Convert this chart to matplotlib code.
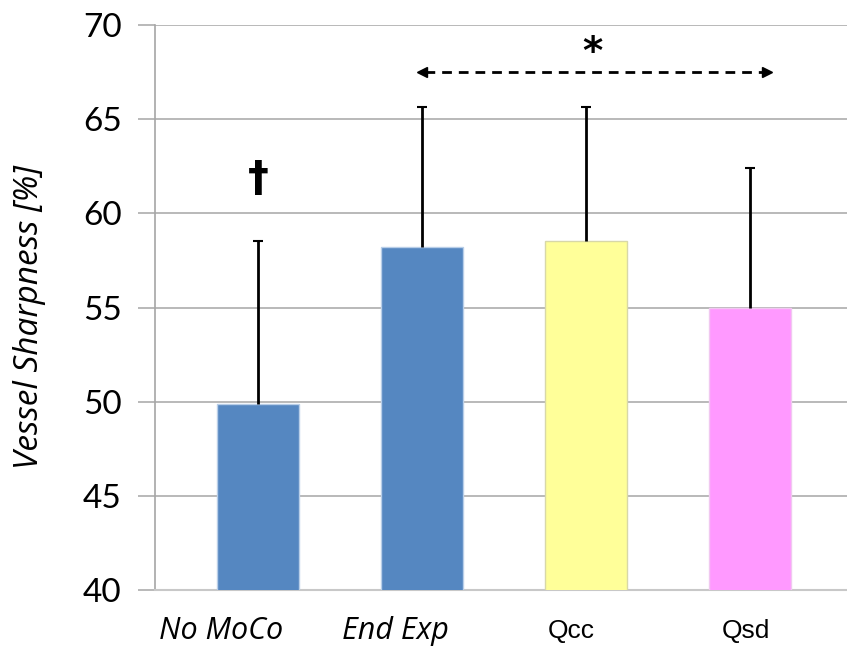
import matplotlib
matplotlib.use("Agg")
import matplotlib.pyplot as plt

# Mean vessel sharpness per reconstruction and upper standard deviation
categories = ["No MoCo", "End Exp", "Qcc", "Qsd"]
means = [49.86, 58.23, 58.53, 54.97]
stdev = [8.69, 7.43, 7.13, 7.42]
bar_colors = ["#5587C1", "#5587C1", "#FFFF99", "#FF99FF"]
edge_colors = ["#B8CEE8", "#B8CEE8", "#D8D8A8", "#F0C8F0"]
yticks = [40, 45, 50, 55, 60, 65, 70]

fig = plt.figure(figsize=(8.47, 6.48), dpi=100)
ax = fig.add_axes([155 / 847, 1 - 590 / 648, 1 - 155 / 847, (590 - 25) / 648])

x = list(range(len(categories)))
ax.bar(x, means, width=0.5, color=bar_colors, edgecolor=edge_colors,
       linewidth=1.0, zorder=3)

# upper error bars only, capped at the top
tops = [m + s for m, s in zip(means, stdev)]
ax.vlines(x, means, tops, colors="black", linewidth=2.0, zorder=4)
ax.plot(x, tops, linestyle="none", marker="_", markersize=7,
        markeredgewidth=1.5, color="black", zorder=4)

ax.set_xlim(-0.628, 3.59)
ax.set_ylim(40, 70)
ax.set_yticks(yticks)
ax.yaxis.grid(True, color="#ADADAD", linewidth=1.2, zorder=0)
ax.set_axisbelow(True)

for side in ("top", "right"):
    ax.spines[side].set_visible(False)
ax.spines["left"].set_color("#A6A6A6")
ax.spines["left"].set_linewidth(1.2)
ax.spines["bottom"].set_color("#C8C8C8")
ax.spines["bottom"].set_linewidth(1.5)

ax.tick_params(axis="y", length=12, width=1.2, color="#ADADAD", pad=12,
               labelsize=24)
for lbl in ax.get_yticklabels():
    lbl.set_fontfamily("Lato")

# category labels sit slightly left of their bars
ax.set_xticks(x)
ax.set_xticklabels([])
ax.tick_params(axis="x", length=0)
label_shift = [-0.226, -0.16, -0.09, -0.025]
for i, name in enumerate(categories):
    kw = dict(ha="center", va="center", transform=ax.get_xaxis_transform())
    if i < 2:
        ax.text(i + label_shift[i], -0.073, name, fontfamily="Open Sans",
                fontstyle="italic", fontsize=22, **kw)
    else:
        ax.text(i + label_shift[i], -0.073, name, fontfamily="Liberation Sans",
                fontsize=19, **kw)

ax.set_ylabel("Vessel Sharpness [%]", fontfamily="Open Sans",
              fontstyle="italic", fontsize=24)
ax.yaxis.set_label_coords(-0.157, 0.483)

# Significance markers
ax.text(0, 61.8, "\u2020", ha="center", va="center", fontsize=30,
        fontfamily="DejaVu Sans", fontweight="bold")
ax.text(2.04, 68.5, "*", ha="center", va="center", fontsize=28,
        fontfamily="DejaVu Sans", fontweight="bold")
ax.plot([1.02, 3.08], [67.5, 67.5], color="black", linewidth=2,
        linestyle=(0, (3.5, 2.5)), zorder=5)
ax.plot([1.0], [67.5], marker="<", color="black", markersize=7, zorder=5)
ax.plot([3.1], [67.5], marker=">", color="black", markersize=7, zorder=5)

fig.savefig("out.png", dpi=100)
